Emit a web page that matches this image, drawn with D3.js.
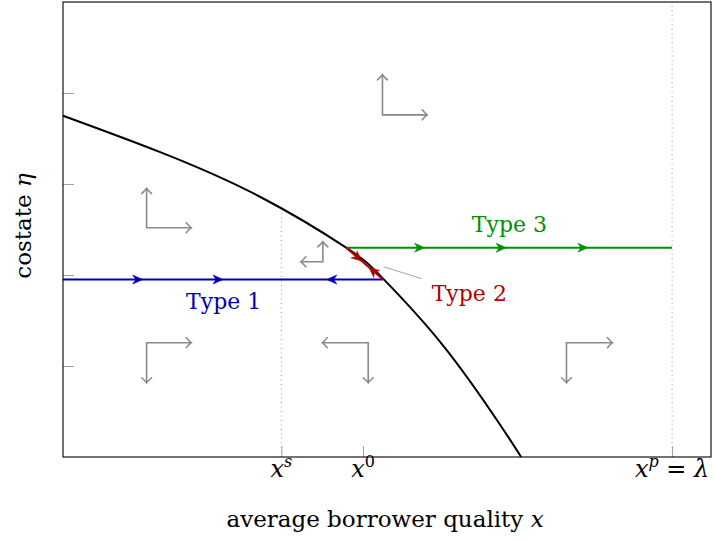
<!DOCTYPE html>
<html>
<head>
<meta charset="utf-8">
<script src="https://cdn.jsdelivr.net/npm/d3@7"></script>
<style>
  body { margin: 0; background: #fff; }
  svg text { font-family: "DejaVu Serif", serif; }
</style>
</head>
<body>
<div id="chart"></div>
<script>
// phase diagram: costate eta vs average borrower quality x

// boundary curve (eta-dot = 0)
const curveX = [0, 0.150, 0.304, 0.437, 0.494, 0.586, 0.674, 0.707];
const curveY = [3.75, 3.35, 2.86, 2.30, 1.96, 1.23, 0.36, 0.00];

// special x values
const xS = 0.337, x0 = 0.463, xP = 0.940;
const xTickVals = [xS, x0, xP];
const yTickVals = [1, 2, 3, 4];

// trajectories
const type1 = { x: [0, 0.494], y: 1.95, arrows: [0.123, 0.247], back: [0.407] };
const type3 = { x: [0.437, 0.940], y: 2.30, arrows: [0.558, 0.684, 0.810] };
const type2 = { from: [0.437, 2.30], to: [0.494, 1.95], tips: [0.42, 0.62] }; // fractions along segment: forward, backward

// direction arrows: corner, horizontal length, vertical length (data units)
const dirArrows = [
  { x: 0.493, y: 3.76, dx: 0.069, dy: 0.44 },
  { x: 0.129, y: 2.52, dx: 0.069, dy: 0.43 },
  { x: 0.401, y: 2.145, dx: -0.034, dy: 0.22 },
  { x: 0.129, y: 1.256, dx: 0.069, dy: -0.44 },
  { x: 0.471, y: 1.256, dx: -0.071, dy: -0.44 },
  { x: 0.777, y: 1.256, dx: 0.071, dy: -0.44 }
];

const W = 714, H = 541;
const margin = { left: 63, top: 2, right: 3, bottom: 84 };
const iw = W - margin.left - margin.right;
const ih = H - margin.top - margin.bottom;

const BLUE = '#0000b3', GREEN = '#009000', RED = '#b30000', GRAY = '#8a8a8a';

const svg = d3.select('#chart').append('svg').attr('width', W).attr('height', H);
const g = svg.append('g').attr('transform', `translate(${margin.left},${margin.top})`);

const x = d3.scaleLinear().domain([0, 1]).range([0, iw]);
const y = d3.scaleLinear().domain([0, 5]).range([ih, 0]);

// ticks (inside)
const xAxis = g.append('g').attr('transform', `translate(0,${ih})`)
  .call(d3.axisBottom(x).tickValues(xTickVals).tickSize(-11).tickFormat(''));
const yAxis = g.append('g')
  .call(d3.axisLeft(y).tickValues(yTickVals).tickSize(-11).tickFormat(''));
[xAxis, yAxis].forEach(a => { a.select('.domain').remove(); a.selectAll('line').attr('stroke', '#a0a0a0'); });

// dotted guides
g.append('line').attr('x1', x(xS)).attr('x2', x(xS)).attr('y1', y(0)).attr('y2', y(2.72))
  .attr('stroke', '#999').attr('stroke-width', 0.9).attr('stroke-dasharray', '1,3.5');
g.append('line').attr('x1', x(xP)).attr('x2', x(xP)).attr('y1', y(0)).attr('y2', y(5))
  .attr('stroke', '#999').attr('stroke-width', 0.9).attr('stroke-dasharray', '1,3.5');

// boundary curve
const pts = curveX.map((v, i) => [v, curveY[i]]);
g.append('path').datum(pts)
  .attr('d', d3.line().x(d => x(d[0])).y(d => y(d[1])).curve(d3.curveNatural))
  .attr('fill', 'none').attr('stroke', '#000').attr('stroke-width', 2);

// arrowhead helpers
function stealth(px, py, ang, color) {
  g.append('path').attr('d', 'M0,0 L-10,-4.5 L-7,0 L-10,4.5 Z')
    .attr('transform', `translate(${px},${py}) rotate(${ang})`)
    .attr('fill', color).attr('stroke', color).attr('stroke-width', 0.6).attr('stroke-linejoin', 'round');
}
function openHead(px, py, ang) {
  g.append('path').attr('d', 'M-5,-5 Q-1.5,-1 0,0 Q-1.5,1 -5,5')
    .attr('transform', `translate(${px},${py}) rotate(${ang})`)
    .attr('fill', 'none').attr('stroke', GRAY).attr('stroke-width', 1.6).attr('stroke-linecap', 'round');
}

// Type 1 (blue)
g.append('line').attr('x1', x(type1.x[0])).attr('x2', x(type1.x[1])).attr('y1', y(type1.y)).attr('y2', y(type1.y))
  .attr('stroke', BLUE).attr('stroke-width', 2);
type1.arrows.forEach(v => stealth(x(v), y(type1.y), 0, BLUE));
type1.back.forEach(v => stealth(x(v), y(type1.y), 180, BLUE));

// Type 3 (green)
g.append('line').attr('x1', x(type3.x[0])).attr('x2', x(type3.x[1])).attr('y1', y(type3.y)).attr('y2', y(type3.y))
  .attr('stroke', GREEN).attr('stroke-width', 2);
type3.arrows.forEach(v => stealth(x(v), y(type3.y), 0, GREEN));

// Type 2 (red) along the boundary
const rx0 = x(type2.from[0]), ry0 = y(type2.from[1]), rx1 = x(type2.to[0]), ry1 = y(type2.to[1]);
g.append('line').attr('x1', rx0).attr('y1', ry0).attr('x2', rx1).attr('y2', ry1)
  .attr('stroke', RED).attr('stroke-width', 2);
const rAng = Math.atan2(ry1 - ry0, rx1 - rx0) * 180 / Math.PI;
type2.tips.forEach((t, i) => {
  stealth(rx0 + (rx1 - rx0) * t, ry0 + (ry1 - ry0) * t, i === 0 ? rAng : rAng + 180, RED);
});

// direction arrows (gray)
dirArrows.forEach(a => {
  const cx = x(a.x), cy = y(a.y), hx = x(a.x + a.dx), vy = y(a.y + a.dy);
  g.append('path').attr('d', `M${hx},${cy} L${cx},${cy} L${cx},${vy}`)
    .attr('fill', 'none').attr('stroke', GRAY).attr('stroke-width', 1.6);
  openHead(hx, cy, a.dx > 0 ? 0 : 180);
  openHead(cx, vy, a.dy > 0 ? -90 : 90);
});

// leader for Type 2
g.append('line').attr('x1', x(0.495)).attr('y1', y(2.09)).attr('x2', x(0.553)).attr('y2', y(1.96))
  .attr('stroke', '#999').attr('stroke-width', 0.9);

// labels
g.append('text').attr('x', x(0.248)).attr('y', y(1.95) + 29).attr('text-anchor', 'middle')
  .attr('fill', BLUE).style('font-size', '22px').text('Type 1');
g.append('text').attr('x', x(0.689)).attr('y', y(2.30) - 16).attr('text-anchor', 'middle')
  .attr('fill', GREEN).style('font-size', '22px').text('Type 3');
g.append('text').attr('x', x(0.627)).attr('y', y(1.96) + 22).attr('text-anchor', 'middle')
  .attr('fill', RED).style('font-size', '22px').text('Type 2');

// frame
g.append('rect').attr('width', iw).attr('height', ih).attr('fill', 'none').attr('stroke', '#000').attr('stroke-width', 1.1);

// tick labels with superscripts
const tickLabels = [
  [{ t: 'x', i: true }, { t: 's', i: true, sup: true }],
  [{ t: 'x', i: true }, { t: '0', sup: true }],
  [{ t: 'x', i: true }, { t: 'p', i: true, sup: true }, { t: ' = ', back: true }, { t: 'λ', i: true }]
];
xTickVals.forEach((v, k) => {
  const t = g.append('text').attr('x', x(v)).attr('y', ih + 20).attr('text-anchor', 'middle').style('font-size', '24px');
  tickLabels[k].forEach(p => {
    const s = t.append('tspan').text(p.t);
    if (p.i) s.style('font-style', 'italic');
    if (p.sup) s.attr('dy', -10).style('font-size', '16px');
    if (p.back) s.attr('dy', 10);
  });
});

// axis titles
const xt = g.append('text').attr('x', x(0.497)).attr('y', ih + 70).attr('text-anchor', 'middle').style('font-size', '23px');
xt.append('tspan').text('average borrower quality ');
xt.append('tspan').style('font-style', 'italic').text('x');

const yt = svg.append('text').attr('transform', 'translate(31,226) rotate(-90)').attr('text-anchor', 'middle').style('font-size', '23px');
yt.append('tspan').text('costate ');
yt.append('tspan').style('font-style', 'italic').text('η');
</script>
</body>
</html>
